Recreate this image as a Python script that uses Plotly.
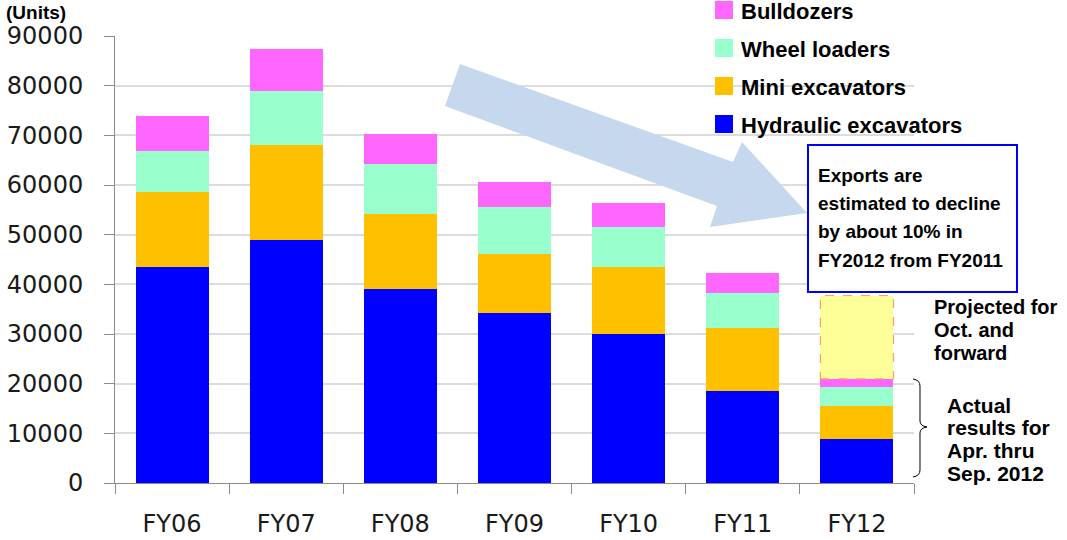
import plotly.graph_objects as go

# values (units)
years = ['FY06', 'FY07', 'FY08', 'FY09', 'FY10', 'FY11', 'FY12']
hydraulic = [43500, 49000, 39150, 34250, 30100, 18500, 8950]
mini = [15000, 19050, 15000, 11900, 13400, 12650, 6500]
wheel = [8250, 10800, 10050, 9350, 8000, 7200, 3800]
bulldozers = [7200, 8500, 6150, 5100, 4900, 3850, 1700]
projected = [None, None, None, None, None, None, 16800]

series = [
    ('Hydraulic excavators', hydraulic, '#0000FF'),
    ('Mini excavators', mini, '#FFC000'),
    ('Wheel loaders', wheel, '#99FFCC'),
    ('Bulldozers', bulldozers, '#FF66FF'),
]
y_ticks = [0, 10000, 20000, 30000, 40000, 50000, 60000, 70000, 80000, 90000]

W, H = 1067, 540
PL, PR, PT, PB = 115, 914, 36, 483
BAR_GAP = 0.36


def px(x):
    return (x - PL) / (PR - PL)


def py(y):
    return (PB - y) / (PB - PT)


fig = go.Figure()
for name, vals, col in series:
    fig.add_trace(go.Bar(name=name, x=years, y=vals, marker_color=col,
                         marker_line_width=0, showlegend=False))
fig.add_trace(go.Bar(name='Projected', x=years, y=projected,
                     marker_color='#FFFF99', marker_line_width=0,
                     showlegend=False))

shapes = []
annos = []

# dashed outline of the projected part of FY12
i12 = len(years) - 1
base12 = sum(s[1][i12] for s in series)
half = (1 - BAR_GAP) / 2
shapes.append(dict(type='rect', xref='x', yref='y', x0=i12 - half, x1=i12 + half,
                   y0=base12, y1=base12 + projected[i12],
                   line=dict(color='#F7A35C', width=1.2, dash='dash')))

# big light-blue arrow
pts = [(460, 64), (733, 162), (742, 142), (807, 213), (710, 227), (717, 206), (445, 106)]
path = 'M ' + ' L '.join('{:.4f},{:.4f}'.format(px(a), py(b)) for a, b in pts) + ' Z'
shapes.append(dict(type='path', xref='paper', yref='paper', path=path,
                   fillcolor='#C6D8EE', line=dict(width=0), layer='above'))

# text box
shapes.append(dict(type='rect', xref='paper', yref='paper',
                   x0=px(808), x1=px(1017), y0=py(292), y1=py(145),
                   fillcolor='white', line=dict(color='#0000FF', width=2), layer='above'))
box_lines = ['Exports are', 'estimated to decline', 'by about 10% in', 'FY2012 from FY2011']
for k, t in enumerate(box_lines):
    annos.append(dict(x=px(816), y=py(175 + 28.5 * k), xref='paper', yref='paper',
                      text=t, showarrow=False, xanchor='left', yanchor='middle',
                      font=dict(family='Liberation Sans', size=19, color='black', weight='bold')))

proj_lines = ['Projected for', 'Oct. and', 'forward']
for k, t in enumerate(proj_lines):
    annos.append(dict(x=px(932), y=py(307 + 23 * k), xref='paper', yref='paper',
                      text=t, showarrow=False, xanchor='left', yanchor='middle',
                      font=dict(family='Liberation Sans', size=20, color='black', weight='bold')))

act_lines = ['Actual', 'results for', 'Apr. thru', 'Sep. 2012']
for k, t in enumerate(act_lines):
    annos.append(dict(x=px(945), y=py(405 + 22.7 * k), xref='paper', yref='paper',
                      text=t, showarrow=False, xanchor='left', yanchor='middle',
                      font=dict(family='Liberation Sans', size=21, color='black', weight='bold')))

# curly brace
bx = [(913, 379), (920, 380), (920, 386), (920, 421), (920, 426), (927, 427),
      (920, 428), (920, 433), (920, 470), (920, 476), (913, 477)]
bp = 'M {:.4f},{:.4f}'.format(px(bx[0][0]), py(bx[0][1]))
bp += ' Q {:.4f},{:.4f} {:.4f},{:.4f}'.format(px(bx[1][0]), py(bx[1][1]), px(bx[2][0]), py(bx[2][1]))
bp += ' L {:.4f},{:.4f}'.format(px(bx[3][0]), py(bx[3][1]))
bp += ' Q {:.4f},{:.4f} {:.4f},{:.4f}'.format(px(bx[4][0]), py(bx[4][1]), px(bx[5][0]), py(bx[5][1]))
bp += ' Q {:.4f},{:.4f} {:.4f},{:.4f}'.format(px(bx[6][0]), py(bx[6][1]), px(bx[7][0]), py(bx[7][1]))
bp += ' L {:.4f},{:.4f}'.format(px(bx[8][0]), py(bx[8][1]))
bp += ' Q {:.4f},{:.4f} {:.4f},{:.4f}'.format(px(bx[9][0]), py(bx[9][1]), px(bx[10][0]), py(bx[10][1]))
shapes.append(dict(type='path', xref='paper', yref='paper', path=bp,
                   line=dict(color='black', width=1)))

# legend (top item = last series)
for k, (name, vals, col) in enumerate(reversed(series)):
    cy = 10 + 38 * k
    shapes.append(dict(type='rect', xref='paper', yref='paper',
                       x0=px(715), x1=px(733), y0=py(cy + 9), y1=py(cy - 9),
                       fillcolor=col, line=dict(width=0)))
    annos.append(dict(x=px(739), y=py(cy + 1.5), xref='paper', yref='paper', text=name,
                      showarrow=False, xanchor='left', yanchor='middle',
                      font=dict(family='Liberation Sans', size=22, color='black', weight='bold')))

annos.append(dict(x=px(4), y=py(12), xref='paper', yref='paper', text='(Units)',
                  showarrow=False, xanchor='left', yanchor='middle',
                  font=dict(family='Liberation Sans', size=19, color='black', weight='bold')))

fig.update_layout(
    width=W, height=H,
    margin=dict(l=PL, r=W - PR, t=PT, b=H - PB),
    barmode='stack', bargap=BAR_GAP,
    plot_bgcolor='white', paper_bgcolor='white',
    shapes=shapes, annotations=annos,
    showlegend=False,
)
fig.update_xaxes(
    type='category', showline=True, linecolor='#8C8C8C', linewidth=1,
    ticks='outside', tickson='boundaries', ticklen=10, tickcolor='#8C8C8C',
    ticklabelstandoff=19, automargin=False,
    tickfont=dict(family='DejaVu Sans', size=24, color='#1a1a1a'),
    showgrid=False,
)
fig.update_yaxes(
    range=[0, 90000], tickvals=y_ticks, tickformat='d',
    showline=True, linecolor='#8C8C8C', linewidth=1,
    ticks='outside', ticklen=10, tickcolor='#8C8C8C',
    ticklabelstandoff=16, automargin=False,
    tickfont=dict(family='DejaVu Sans', size=24, color='#1a1a1a'),
    showgrid=True, gridcolor='#DCDCDC', gridwidth=1.5, zeroline=False,
)

# drop the default page margin so the figure sits at the window origin
fig.write_html('out.html', config={'displayModeBar': False},
               post_script="document.body.style.margin='0';")
